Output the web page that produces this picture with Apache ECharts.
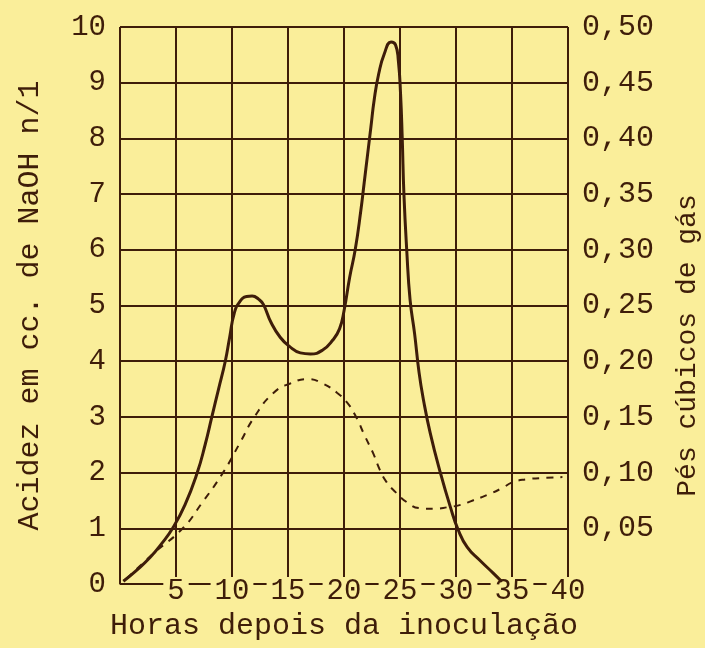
<!DOCTYPE html>
<html><head><meta charset="utf-8">
<script src="https://cdn.jsdelivr.net/npm/echarts@6/dist/echarts.min.js"></script>
<style>html,body{margin:0;padding:0;background:#faee9a}#c{width:705px;height:648px}</style>
</head><body><div id="c"></div>
<script>
// Gas production (solid curve, right axis, cubic feet)
const gasHours  = [0.3,1.5,2.7,3.7,4.7,5.8,6.9,7.6,8.2,8.8,9.4,9.8,10.2,10.7,11.3,11.8,12.4,12.8,13.5,14.3,15.1,16.1,17,18.1,19,19.6,20,20.5,21,21.5,21.8,22.1,22.4,22.7,23.1,23.6,24.2,24.6,24.85,25.05,25.2,25.35,25.6,25.9,26.3,26.7,27.1,27.7,28.6,29.5,30.2,31,32.1,33.3,34.1];
const gasVolume = [0.0025,0.0125,0.024,0.036,0.05,0.071,0.1,0.125,0.15,0.175,0.2,0.222,0.243,0.2535,0.258,0.2585,0.2555,0.251,0.2345,0.2215,0.2135,0.2075,0.2065,0.21,0.219,0.229,0.245,0.275,0.3,0.335,0.36,0.385,0.41,0.435,0.458,0.476,0.4865,0.484,0.47,0.44,0.4,0.35,0.3,0.255,0.225,0.19,0.165,0.1355,0.1,0.069,0.0485,0.033,0.0215,0.01,0.002];
// Acidity (dashed curve, left axis, cc NaOH n/1)
const acidHours = [0.6,3,5.6,7.3,9.2,10.7,12,13.7,15.2,16.8,18.1,19.4,20.3,21,21.9,22.6,23.2,23.8,24.6,25.6,26.8,28.1,29.3,30.4,31.5,32.8,34.1,35.1,36.3,37.5,39.5];
const acidity   = [0.1,0.55,1.0,1.45,2.0,2.53,3.0,3.43,3.6,3.68,3.6,3.43,3.25,3.03,2.64,2.35,2.05,1.83,1.65,1.47,1.36,1.35,1.38,1.42,1.5,1.6,1.72,1.83,1.88,1.9,1.92];
// Axis texts
const xName = 'Horas depois da inoculação';
const leftName = 'Acidez em cc. de NaOH n/1';
const rightName = 'Pés cúbicos de gás';

const ink = '#3e1d09';
const bg = '#faee9a';
const font = "'Liberation Mono','DejaVu Sans Mono',monospace";

const chart = echarts.init(document.getElementById('c'), null, {renderer:'canvas'});
chart.setOption({
  backgroundColor: bg,
  animation: false,
  grid: {left:120, right:137, top:27, bottom:64, containLabel:false, outerBoundsMode:'none'},
  xAxis: {
    type:'value', min:0, max:40, interval:5,
    name: xName, nameLocation:'middle', nameGap:27,
    nameTextStyle:{color:ink, fontFamily:font, fontSize:30},
    axisLine:{show:true, lineStyle:{color:ink, width:1.5}},
    axisTick:{show:false},
    axisLabel:{color:ink, fontFamily:font, fontSize:29, margin:-7,
      backgroundColor:bg, padding:[0,4,0,4],
      formatter: v => v === 0 ? '' : String(v)},
    splitLine:{show:true, lineStyle:{color:ink, width:2}}
  },
  yAxis: [{
    type:'value', min:0, max:10, interval:1,
    name: leftName, nameLocation:'middle', nameGap:75,
    nameTextStyle:{color:ink, fontFamily:font, fontSize:30},
    axisLine:{show:false}, axisTick:{show:false},
    axisLabel:{color:ink, fontFamily:font, fontSize:29, margin:14},
    splitLine:{show:true, lineStyle:{color:ink, width:2}}
  },{
    type:'value', min:0, max:0.5, interval:0.05, position:'right',
    name: rightName, nameLocation:'middle', nameGap:106,
    nameTextStyle:{color:ink, fontFamily:font, fontSize:28, padding:[0,80,0,0]},
    axisLine:{show:false}, axisTick:{show:false},
    axisLabel:{color:ink, fontFamily:font, fontSize:30, margin:14,
      formatter: v => v < 0.001 ? '' : v.toFixed(2).replace('.', ',')},
    splitLine:{show:false}
  }],
  series: [{
    name:'gás', type:'line', yAxisIndex:1, smooth:0.5, symbol:'none',
    data: gasHours.map((h,i)=>[h, gasVolume[i]]),
    lineStyle:{color:ink, width:3}
  },{
    name:'acidez', type:'line', yAxisIndex:0, smooth:0.5, symbol:'none',
    data: acidHours.map((h,i)=>[h, acidity[i]]),
    lineStyle:{color:ink, width:2, type:[7,7]}
  }]
});
</script></body></html>
